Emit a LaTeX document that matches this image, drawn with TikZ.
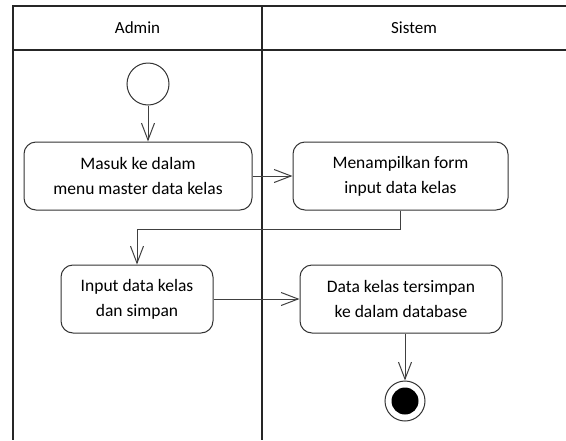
\documentclass[tikz,border=0pt]{standalone}
\usepackage{fontspec}
\setmainfont{Carlito}
\usetikzlibrary{arrows.meta}
\tikzset{
  lane/.style={line width=1.3pt, draw=black!85},
  act/.style={draw=black!80, line width=1pt, rounded corners=12pt, align=center, font=\fontsize{17.5}{25}\selectfont, inner sep=0pt},
  flow/.style={draw=black!75, line width=1pt, -{Straight Barb[length=17pt,width=13pt,line width=1pt]}},
}
\begin{document}
\begin{tikzpicture}[x=1pt,y=-1pt]
\useasboundingbox (0,0) rectangle (566,440);
% swimlanes
\draw[lane] (566,6) -- (13,6) -- (13,440);
\draw[lane] (13,50) -- (566,50);
\draw[lane] (262,6) -- (262,440);
\node[font=\fontsize{17}{20}\selectfont] (hA) at (137.5,28) {Admin};
\node[font=\fontsize{17}{20}\selectfont] (hS) at (414,28) {Sistem};
% nodes
\node[draw=black!80, line width=1pt, circle, minimum size=42pt, inner sep=0pt] (start) at (148,84) {};
\node[act, minimum width=228pt, minimum height=68pt] (a1) at (138,176) {Masuk ke dalam\\menu master data kelas};
\node[act, minimum width=215pt, minimum height=68pt] (a2) at (400.5,176) {Menampilkan form\\input data kelas};
\node[act, minimum width=152pt, minimum height=68pt] (a3) at (137,299) {Input data kelas\\dan simpan};
\node[act, minimum width=202pt, minimum height=68pt] (a4) at (401,299) {Data kelas tersimpan\\ke dalam database};
\node[draw=black!80, line width=1pt, circle, minimum size=40pt, inner sep=0pt] (end) at (405,401) {};
\node[fill=black, circle, minimum size=27pt, inner sep=0pt] (endin) at (end.center) {};
% flows
\draw[flow] (start) -- (start.center |- a1.north);
\draw[flow] (a1) -- (a2);
\draw[flow] (a2.south) -- ++(0,19) -| (a3.north);
\draw[flow] (a3) -- (a4);
\draw[flow] (end.center |- a4.south) -- (end);
\end{tikzpicture}
\end{document}
